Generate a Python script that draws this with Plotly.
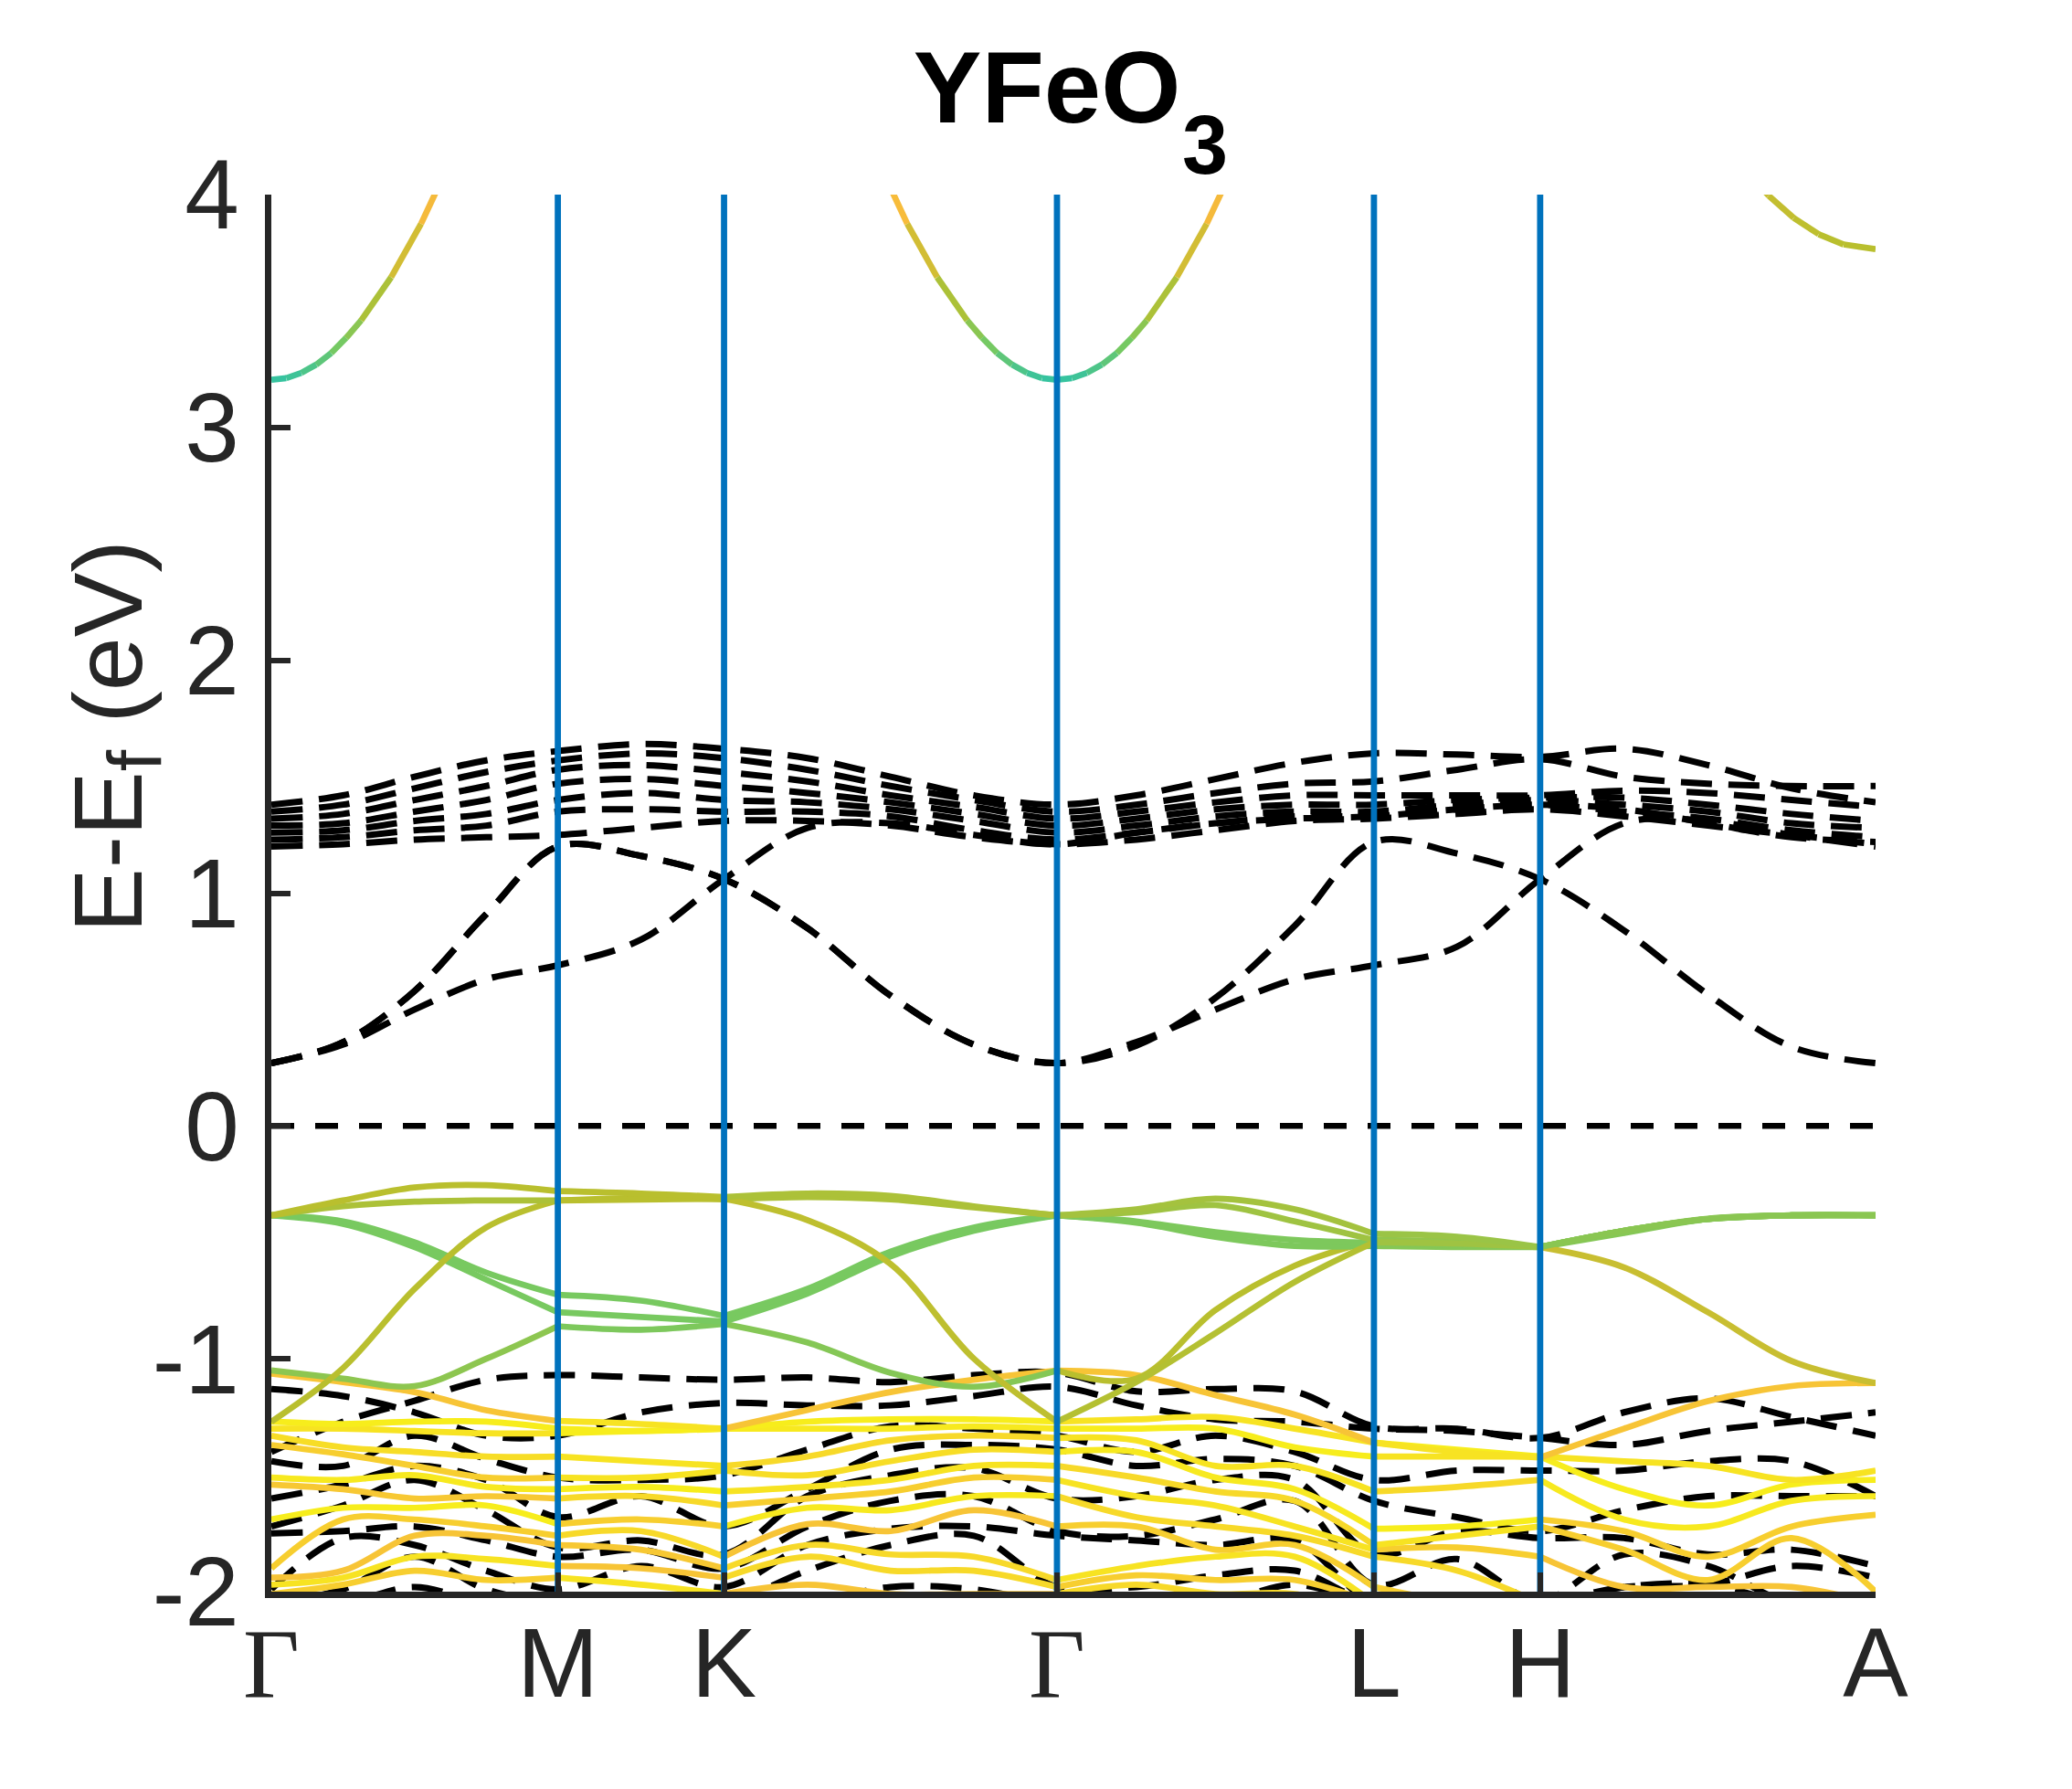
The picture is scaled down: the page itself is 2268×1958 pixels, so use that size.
"""Band structure of YFeO3 with orbital-projected spin-up bands and dashed spin-down bands."""

import plotly.graph_objects as go
from plotly.colors import sample_colorscale

# ---------------------------------------------------------------- data
# k-path (units of 2pi/a) and high-symmetry labels
K_TICKS = [0.0, 0.574, 0.907, 1.574, 2.209, 2.542, 3.214]
K_LABELS = ["Γ", "M", "K", "Γ", "L", "H", "A"]
DIVIDERS = [0.574, 0.907, 1.574, 2.209, 2.542]
E_TICKS = [-2, -1, 0, 1, 2, 3, 4]
E_LABELS = ["-2", "-1", "0", "1", "2", "3", "4"]

# sampling points along the path
K_GRID = [0.0, 0.1435, 0.287, 0.4305, 0.574, 0.7405, 0.907, 1.0738, 1.2405, 1.4073,
          1.574, 1.7328, 1.8915, 2.0503, 2.209, 2.3755, 2.542, 2.710, 2.878, 3.046, 3.214]

# conduction band minima (projected, coloured)
cb_gamma0_k = [0.0, 0.03, 0.06, 0.09, 0.12, 0.15, 0.18, 0.24, 0.30, 0.36]
cb_gamma0_e = [3.205, 3.212, 3.234, 3.27, 3.32, 3.385, 3.46, 3.645, 3.875, 4.15]
cb_gamma0_w = [0.02, 0.05, 0.10, 0.16, 0.24, 0.32, 0.45, 0.60, 0.74]
cb_gamma1_k = [1.214, 1.274, 1.334, 1.394, 1.424, 1.454, 1.484, 1.514, 1.544, 1.574,
               1.604, 1.634, 1.664, 1.694, 1.724, 1.754, 1.814, 1.874, 1.934]
cb_gamma1_e = [4.15, 3.875, 3.645, 3.46, 3.385, 3.32, 3.27, 3.234, 3.212, 3.205,
               3.212, 3.234, 3.27, 3.32, 3.385, 3.46, 3.645, 3.875, 4.15]
cb_gamma1_w = [0.76, 0.60, 0.45, 0.32, 0.24, 0.16, 0.10, 0.05, 0.02,
               0.02, 0.05, 0.10, 0.16, 0.24, 0.32, 0.45, 0.60, 0.74]
cb_a_k = [2.95, 3.0, 3.05, 3.1, 3.15, 3.214]
cb_a_e = [4.11, 3.995, 3.90, 3.83, 3.786, 3.766]
cb_a_w = [0.56, 0.54, 0.52, 0.5, 0.5]

# coloured (spin-up) valence bands on K_GRID, weights per branch
# branches: G-M, M-K, K-G, G-L, L-H, H-A
vb_olive_1 = [-0.384, -0.32, -0.264, -0.254, -0.28, -0.29, -0.305, -0.29, -0.30, -0.345, -0.384,
              -0.358, -0.312, -0.358, -0.463, -0.476, -0.52, -0.45, -0.398, -0.384, -0.384]
vb_olive_1_w = [0.5, 0.5, 0.45, 0.42, 0.38, 0.32]
vb_olive_2 = [-0.384, -0.345, -0.325, -0.32, -0.32, -0.316, -0.312, -0.404, -0.593, -0.999, -1.27,
              -1.10, -0.89, -0.67, -0.50, -0.505, -0.52, -0.607, -0.80, -1.01, -1.104]
vb_olive_2_w = [0.45, 0.5, 0.52, 0.48, 0.4, 0.56]
vb_olive_3 = [-1.27, -1.04, -0.70, -0.436, -0.32, -0.31, -0.315, -0.305, -0.315, -0.35, -0.384,
              -0.37, -0.34, -0.41, -0.49, -0.495, -0.52, -0.46, -0.40, -0.384, -0.384]
vb_olive_3_w = [0.5, 0.5, 0.45, 0.4, 0.35, 0.3]
vb_green_1 = [-0.384, -0.41, -0.50, -0.63, -0.725, -0.75, -0.816, -0.70, -0.54, -0.436, -0.384,
              -0.41, -0.456, -0.49, -0.502, -0.51, -0.52, -0.45, -0.40, -0.384, -0.384]
vb_green_1_w = [0.25, 0.25, 0.25, 0.27, 0.3, 0.3]
vb_green_2 = [-0.384, -0.42, -0.52, -0.66, -0.80, -0.82, -0.84, -0.72, -0.56, -0.45, -0.384,
              -0.415, -0.476, -0.515, -0.515, -0.52, -0.52, -0.45, -0.40, -0.384, -0.384]
vb_green_2_w = [0.25, 0.25, 0.25, 0.27, 0.3, 0.3]
vb_green_3 = [-1.05, -1.085, -1.117, -1.0, -0.86, -0.875, -0.85, -0.93, -1.06, -1.12, -1.05,
              -1.085, -0.79, -0.60, -0.49, -0.50, -0.52, -0.45, -0.40, -0.384, -0.384]
vb_green_3_w = [0.33, 0.27, 0.3, 0.5, 0.4, 0.3]
vb_orange_1 = [-1.064, -1.10, -1.143, -1.221, -1.267, -1.28, -1.30, -1.22, -1.143, -1.09, -1.051,
               -1.07, -1.156, -1.24, -1.36, -1.40, -1.424, -1.30, -1.182, -1.117, -1.104]
vb_orange_1_w = [0.8, 0.95, 0.8, 0.8, 0.95, 0.8]
vb_low_1 = [-1.27, -1.28, -1.27, -1.27, -1.30, -1.31, -1.30, -1.27, -1.26, -1.26, -1.27,
            -1.26, -1.25, -1.30, -1.36, -1.39, -1.42, -1.44, -1.46, -1.52, -1.48]
vb_low_1_w = [1.0, 1.0, 1.0, 0.95, 1.0, 0.95]
vb_low_2 = [-1.30, -1.30, -1.31, -1.32, -1.32, -1.31, -1.30, -1.30, -1.30, -1.29, -1.30,
            -1.30, -1.30, -1.38, -1.42, -1.42, -1.42, -1.56, -1.63, -1.54, -1.52]
vb_low_2_w = [0.95, 1.0, 0.98, 1.0, 0.95, 1.0]
vb_low_3 = [-1.33, -1.38, -1.40, -1.42, -1.42, -1.44, -1.46, -1.42, -1.35, -1.33, -1.34,
            -1.35, -1.46, -1.46, -1.57, -1.55, -1.52, -1.69, -1.72, -1.61, -1.59]
vb_low_3_w = [0.92, 0.95, 0.9, 0.95, 0.9, 0.98]
vb_low_4 = [-1.37, -1.41, -1.46, -1.51, -1.51, -1.51, -1.48, -1.50, -1.44, -1.39, -1.40,
            -1.40, -1.51, -1.56, -1.73, -1.72, -1.69, -1.74, -1.85, -1.72, -1.67]
vb_low_4_w = [0.85, 0.95, 0.92, 0.98, 1.0, 0.85]
vb_low_5 = [-1.51, -1.52, -1.50, -1.55, -1.56, -1.55, -1.57, -1.55, -1.52, -1.46, -1.46,
            -1.51, -1.57, -1.61, -1.80, -1.76, -1.72, -1.82, -1.95, -1.77, -2.00]
vb_low_5_w = [0.98, 1.0, 0.95, 0.9, 0.95, 0.85]
vb_low_6 = [-1.54, -1.56, -1.60, -1.59, -1.60, -1.59, -1.63, -1.60, -1.57, -1.51, -1.52,
            -1.59, -1.63, -1.72, -1.82, -1.81, -1.85, -1.98, -1.98, -1.98, -2.05]
vb_low_6_w = [0.82, 0.9, 0.85, 0.95, 0.85, 0.8]
vb_low_7 = [-1.69, -1.64, -1.64, -1.63, -1.71, -1.69, -1.72, -1.64, -1.65, -1.59, -1.59,
            -1.68, -1.72, -1.76, -1.85, -1.91, -2.05, -2.05, -2.05, -2.05, -2.05]
vb_low_7_w = [1.0, 0.85, 0.98, 0.9, 0.9, 0.9]
vb_low_8 = [-1.90, -1.69, -1.69, -1.72, -1.76, -1.74, -1.85, -1.71, -1.74, -1.65, -1.72,
            -1.72, -1.82, -1.80, -1.98, -2.05, -2.10, -2.10, -2.10, -2.10, -2.10]
vb_low_8_w = [0.85, 0.9, 0.8, 0.85, 0.85, 0.85]
vb_low_9 = [-1.94, -1.91, -1.76, -1.76, -1.80, -1.82, -1.90, -1.80, -1.84, -1.85, -1.95,
            -1.89, -1.85, -1.85, -2.05, -2.10, -2.10, -2.10, -2.10, -2.10, -2.10]
vb_low_9_w = [0.8, 0.82, 0.9, 0.95, 0.9, 0.9]
vb_low_10 = [-1.97, -1.94, -1.85, -1.86, -1.89, -1.90, -1.94, -1.85, -1.91, -1.91, -1.98,
             -1.93, -1.95, -1.95, -2.05, -2.10, -2.10, -2.10, -2.10, -2.10, -2.10]
vb_low_10_w = [0.95, 0.8, 0.9, 0.85, 0.9, 0.9]
vb_low_11 = [-2.01, -1.97, -1.91, -1.95, -1.94, -1.97, -2.01, -1.97, -2.01, -2.01, -2.01,
             -1.97, -2.01, -2.01, -2.10, -2.10, -2.10, -2.10, -2.10, -2.10, -2.10]
vb_low_11_w = [0.85, 0.95, 0.8, 0.9, 0.9, 0.9]

# dashed (spin-down) bands on K_GRID
dn_gap_a = [0.27, 0.36, 0.58, 0.91, 1.20, 1.16, 1.06, 0.85, 0.56, 0.35, 0.27,
            0.345, 0.55, 0.86, 1.22, 1.17, 1.06, 0.84, 0.565, 0.34, 0.27]
dn_gap_b = [0.27, 0.35, 0.50, 0.63, 0.69, 0.80, 1.06, 1.28, 1.30, 1.25, 1.21,
            1.26, 1.30, 1.32, 1.33, 1.36, 1.38, 1.36, 1.30, 1.24, 1.22]
dn_gap_d = [0.27, 0.36, 0.58, 0.91, 1.20, 1.16, 1.06, 0.85, 0.56, 0.35, 0.27,
            0.36, 0.50, 0.63, 0.69, 0.77, 1.06, 1.30, 1.31, 1.25, 1.20]
dn_cb_1 = [1.38, 1.42, 1.50, 1.57, 1.61, 1.64, 1.62, 1.58, 1.50, 1.42, 1.38,
           1.42, 1.49, 1.56, 1.60, 1.595, 1.585, 1.62, 1.55, 1.45, 1.39]
dn_cb_2 = [1.35, 1.38, 1.45, 1.52, 1.57, 1.60, 1.58, 1.53, 1.46, 1.40, 1.35,
           1.38, 1.43, 1.47, 1.48, 1.53, 1.575, 1.50, 1.47, 1.46, 1.46]
dn_cb_3 = [1.32, 1.34, 1.40, 1.46, 1.53, 1.55, 1.52, 1.48, 1.42, 1.37, 1.32,
           1.35, 1.39, 1.42, 1.42, 1.42, 1.42, 1.44, 1.43, 1.40, 1.37]
dn_cb_4 = [1.29, 1.30, 1.35, 1.40, 1.47, 1.49, 1.46, 1.43, 1.39, 1.34, 1.29,
           1.32, 1.36, 1.38, 1.38, 1.40, 1.41, 1.41, 1.38, 1.34, 1.31]
dn_cb_5 = [1.26, 1.27, 1.31, 1.34, 1.40, 1.43, 1.40, 1.39, 1.36, 1.31, 1.26,
           1.29, 1.33, 1.35, 1.35, 1.38, 1.40, 1.38, 1.35, 1.30, 1.28]
dn_cb_6 = [1.23, 1.24, 1.27, 1.29, 1.35, 1.36, 1.35, 1.35, 1.33, 1.27, 1.23,
           1.26, 1.30, 1.33, 1.33, 1.36, 1.38, 1.35, 1.32, 1.27, 1.24]
dn_cb_7 = [1.20, 1.21, 1.23, 1.24, 1.25, 1.28, 1.31, 1.31, 1.29, 1.24, 1.21,
           1.23, 1.27, 1.31, 1.32, 1.34, 1.36, 1.33, 1.29, 1.25, 1.21]
dn_vb_1 = [-1.40, -1.27, -1.18, -1.09, -1.07, -1.08, -1.09, -1.08, -1.10, -1.07, -1.06,
           -1.14, -1.13, -1.14, -1.29, -1.30, -1.34, -1.23, -1.17, -1.25, -1.33]
dn_vb_2 = [-1.13, -1.16, -1.23, -1.33, -1.33, -1.23, -1.19, -1.20, -1.20, -1.16, -1.12,
           -1.20, -1.26, -1.27, -1.30, -1.31, -1.34, -1.37, -1.31, -1.27, -1.23]
dn_vb_3 = [-1.44, -1.46, -1.33, -1.43, -1.51, -1.52, -1.50, -1.39, -1.29, -1.30, -1.33,
           -1.40, -1.33, -1.40, -1.52, -1.48, -1.48, -1.48, -1.44, -1.44, -1.59]
dn_vb_4 = [-1.60, -1.54, -1.46, -1.52, -1.68, -1.59, -1.72, -1.56, -1.39, -1.37, -1.39,
           -1.46, -1.43, -1.46, -1.61, -1.68, -1.74, -1.65, -1.59, -1.59, -1.59]
dn_vb_5 = [-1.72, -1.63, -1.52, -1.65, -1.81, -1.78, -1.84, -1.59, -1.50, -1.47, -1.60,
           -1.59, -1.52, -1.52, -1.84, -1.74, -1.77, -1.77, -1.84, -1.82, -1.89]
dn_vb_6 = [-1.75, -1.74, -1.72, -1.78, -1.85, -1.82, -1.90, -1.72, -1.61, -1.59, -1.74,
           -1.76, -1.69, -1.61, -1.97, -1.86, -2.05, -1.98, -1.97, -1.89, -1.94]
dn_vb_7 = [-1.99, -1.77, -1.80, -1.91, -1.99, -1.89, -1.98, -1.80, -1.73, -1.72, -1.76,
           -1.78, -1.80, -1.78, -2.05, -2.05, -2.05, -1.84, -1.89, -2.05, -2.05]
dn_vb_8 = [-2.05, -1.99, -1.85, -1.99, -2.05, -2.05, -2.05, -1.91, -1.80, -1.76, -1.98,
           -1.98, -1.93, -1.91, -2.05, -2.05, -2.05, -1.98, -1.97, -2.05, -2.05]
dn_vb_9 = [-2.05, -2.05, -1.98, -2.05, -2.05, -2.05, -2.05, -2.05, -1.98, -1.99, -2.05,
           -2.05, -2.05, -1.97, -2.05, -2.05, -2.05, -2.05, -2.05, -2.05, -2.05]

# ---------------------------------------------------------------- style
W, H = 2268, 1958
# the page body adds an 8px offset, margins are shifted to compensate
L_M, R_M, T_M, B_M = 289, 223, 205, 224
AXIS_COLOR = "#262626"
DIVIDER_COLOR = "#0072BD"
FONT = "Liberation Sans, Arial, sans-serif"
PROJ_SCALE = [
    [0.0, "rgb(48,194,165)"],
    [0.25, "rgb(120,201,96)"],
    [0.5, "rgb(185,191,46)"],
    [0.75, "rgb(247,186,60)"],
    [1.0, "rgb(247,237,28)"],
]
BRANCHES = [(0, 4), (4, 6), (6, 10), (10, 14), (14, 16), (16, 20)]
BAND_W = 6.7


def colour(w):
    return sample_colorscale(PROJ_SCALE, [w])[0]


def add_line(fig, x, y, **line):
    fig.add_trace(go.Scatter(x=x, y=y, mode="lines", line=line,
                             hoverinfo="skip", showlegend=False))


fig = go.Figure()

# spin-down bands
for band in [dn_cb_1, dn_cb_2, dn_cb_3, dn_cb_4, dn_cb_5, dn_cb_6, dn_cb_7,
             dn_gap_a, dn_gap_b, dn_gap_d,
             dn_vb_1, dn_vb_2, dn_vb_3, dn_vb_4, dn_vb_5, dn_vb_6, dn_vb_7, dn_vb_8, dn_vb_9]:
    add_line(fig, K_GRID, band, color="black", width=7, dash="34px,18px", shape="spline")

# spin-up bands, coloured per branch
coloured = [
    (vb_low_11, vb_low_11_w), (vb_low_10, vb_low_10_w), (vb_low_9, vb_low_9_w),
    (vb_low_8, vb_low_8_w), (vb_low_7, vb_low_7_w), (vb_low_6, vb_low_6_w),
    (vb_low_5, vb_low_5_w), (vb_low_4, vb_low_4_w), (vb_low_3, vb_low_3_w),
    (vb_low_2, vb_low_2_w), (vb_low_1, vb_low_1_w), (vb_orange_1, vb_orange_1_w),
    (vb_green_3, vb_green_3_w), (vb_green_2, vb_green_2_w), (vb_green_1, vb_green_1_w),
    (vb_olive_3, vb_olive_3_w), (vb_olive_2, vb_olive_2_w), (vb_olive_1, vb_olive_1_w),
]
for energies, weights in coloured:
    for (i0, i1), w in zip(BRANCHES, weights):
        add_line(fig, K_GRID[i0:i1 + 1], energies[i0:i1 + 1],
                 color=colour(w), width=BAND_W, shape="spline")

# conduction band bottoms, one short segment per weight
for ks, es, ws in [(cb_gamma0_k, cb_gamma0_e, cb_gamma0_w),
                   (cb_gamma1_k, cb_gamma1_e, cb_gamma1_w),
                   (cb_a_k, cb_a_e, cb_a_w)]:
    for i, w in enumerate(ws):
        add_line(fig, ks[i:i + 2], es[i:i + 2], color=colour(w), width=BAND_W)

# Fermi level
add_line(fig, [K_TICKS[0], K_TICKS[-1]], [0, 0], color="black", width=6.5, dash="25px,23px")

# high-symmetry dividers
for k in DIVIDERS:
    add_line(fig, [k, k], [E_TICKS[0], E_TICKS[-1]], color=DIVIDER_COLOR, width=6.8)

tick_font = dict(family=FONT, size=107, color=AXIS_COLOR)
x_text = [f'<span style="font-family:Liberation Serif">{t}</span>' if t == "Γ" else t
          for t in K_LABELS]

plot_w = W - L_M - R_M
plot_h = H - T_M - B_M

fig.update_layout(
    width=W,
    height=H,
    plot_bgcolor="white",
    paper_bgcolor="white",
    margin=dict(l=L_M, r=R_M, t=T_M, b=B_M),
    showlegend=False,
    title=dict(
        text="<b>YFeO</b>",
        xref="container",
        x=(1146 - 8) / W,
        xanchor="center",
        yref="container",
        y=1 - 87 / H,
        yanchor="middle",
        font=dict(family=FONT, size=112, color="black"),
    ),
    annotations=[
        # subscript of the title formula
        dict(
            text="<b>3</b>",
            xref="paper",
            yref="paper",
            x=(1319 - 297) / plot_w,
            y=(1742 - 159) / plot_h,
            xanchor="center",
            yanchor="middle",
            showarrow=False,
            font=dict(family=FONT, size=90, color="black"),
        ),
        dict(
            text='E-E<sub><span style="font-size:84px">f</span></sub> (eV)',
            xref="paper",
            yref="paper",
            x=(127 - 297) / plot_w,
            y=(1742 - 806) / plot_h,
            xanchor="center",
            yanchor="middle",
            textangle=-90,
            showarrow=False,
            font=dict(family=FONT, size=106, color=AXIS_COLOR),
        ),
    ],
)

fig.update_xaxes(
    range=[K_TICKS[0], K_TICKS[-1]],
    tickvals=K_TICKS,
    ticktext=x_text,
    ticks="inside",
    ticklen=21,
    tickwidth=5.5,
    tickcolor=AXIS_COLOR,
    showline=True,
    linewidth=6.5,
    linecolor=AXIS_COLOR,
    showgrid=False,
    zeroline=False,
    tickfont=tick_font,
    ticklabelstandoff=-20,
)
fig.update_yaxes(
    range=[E_TICKS[0], E_TICKS[-1]],
    tickvals=E_TICKS,
    ticktext=E_LABELS,
    ticks="inside",
    ticklen=21,
    tickwidth=5.5,
    tickcolor=AXIS_COLOR,
    showline=True,
    linewidth=6.5,
    linecolor=AXIS_COLOR,
    showgrid=False,
    zeroline=False,
    tickfont=tick_font,
    ticklabelstandoff=7,
)

fig.write_html("out.html")
